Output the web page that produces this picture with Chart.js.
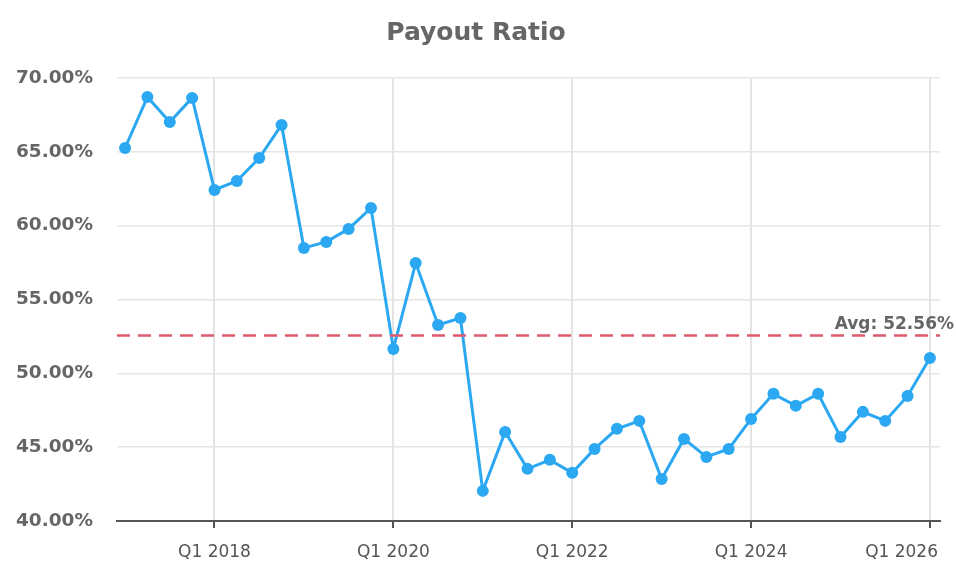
<!DOCTYPE html>
<html>
<head>
<meta charset="utf-8">
<script src="https://cdn.jsdelivr.net/npm/chart.js@4"></script>
<style>
  html, body { margin: 0; padding: 0; background: #fff; }
  #payoutChart { display: block; }
</style>
</head>
<body>
<canvas id="payoutChart" width="956" height="565"></canvas>
<script>
// quarters Q1 2017 .. Q1 2026
const quarters = [
  'Q1 2017', 'Q2 2017', 'Q3 2017', 'Q4 2017',
  'Q1 2018', 'Q2 2018', 'Q3 2018', 'Q4 2018',
  'Q1 2019', 'Q2 2019', 'Q3 2019', 'Q4 2019',
  'Q1 2020', 'Q2 2020', 'Q3 2020', 'Q4 2020',
  'Q1 2021', 'Q2 2021', 'Q3 2021', 'Q4 2021',
  'Q1 2022', 'Q2 2022', 'Q3 2022', 'Q4 2022',
  'Q1 2023', 'Q2 2023', 'Q3 2023', 'Q4 2023',
  'Q1 2024', 'Q2 2024', 'Q3 2024', 'Q4 2024',
  'Q1 2025', 'Q2 2025', 'Q3 2025', 'Q4 2025',
  'Q1 2026'
];
const payoutRatio = [
  65.26, 68.71, 67.02, 68.65,
  62.42, 63.03, 64.58, 66.82,
  58.49, 58.90, 59.78, 61.20,
  51.65, 57.47, 53.28, 53.75,
  42.04, 46.03, 43.53, 44.14,
  43.26, 44.88, 46.24, 46.78,
  42.85, 45.56, 44.34, 44.88,
  46.91, 48.61, 47.80, 48.61,
  45.69, 47.39, 46.78, 48.47,
  51.04
];
const avgPayout = 52.56;
const xTickLabels = ['Q1 2018', 'Q1 2020', 'Q1 2022', 'Q1 2024', 'Q1 2026'];
const yTicks = [40, 45, 50, 55, 60, 65, 70];

const fontFamily = "'DejaVu Sans', 'Open Sans', sans-serif";

// dashed average line + label, and x tick labels kept inside the canvas
const extrasPlugin = {
  id: 'extras',
  afterDatasetsDraw: (chart) => {
    const ctx = chart.ctx;
    const area = chart.chartArea;
    const y = chart.scales.y.getPixelForValue(avgPayout);
    ctx.save();
    ctx.strokeStyle = '#e05a6e';
    ctx.lineWidth = 2.5;
    ctx.setLineDash([13, 8]);
    ctx.beginPath();
    ctx.moveTo(area.left, y);
    ctx.lineTo(area.right, y);
    ctx.stroke();
    ctx.setLineDash([]);
    ctx.fillStyle = '#666';
    ctx.font = 'bold 17px ' + fontFamily;
    ctx.textAlign = 'right';
    ctx.textBaseline = 'bottom';
    ctx.fillText('Avg: ' + avgPayout.toFixed(2) + '%', chart.width - 2, y - 2);
    ctx.restore();
  },
  afterDraw: (chart) => {
    const ctx = chart.ctx;
    const xScale = chart.scales.x;
    ctx.save();
    // title, centred on the canvas
    ctx.fillStyle = '#666';
    ctx.font = 'bold 25px ' + fontFamily;
    ctx.textAlign = 'center';
    ctx.textBaseline = 'alphabetic';
    ctx.fillText('Payout Ratio', 476, 40);
    // x tick labels
    ctx.fillStyle = '#555';
    ctx.font = '17px ' + fontFamily;
    ctx.textBaseline = 'middle';
    xTickLabels.forEach((label) => {
      const idx = quarters.indexOf(label);
      let x = xScale.getPixelForValue(idx);
      const w = ctx.measureText(label).width;
      if (x + w / 2 > chart.width - 18) {
        x = chart.width - 18 - w / 2;
      }
      ctx.fillText(label, x, 553);
    });
    ctx.restore();
  }
};

const ctx = document.getElementById('payoutChart').getContext('2d');

const payoutChart = new Chart(ctx, {
  type: 'line',
  data: {
    datasets: [{
      label: 'Payout Ratio',
      data: payoutRatio.map((v, i) => ({ x: i, y: v })),
      borderColor: '#2ba8f1',
      backgroundColor: '#2ba8f1',
      pointBackgroundColor: '#2ba8f1',
      pointBorderWidth: 0,
      pointRadius: 6,
      borderWidth: 3,
      tension: 0,
      clip: false
    }]
  },
  options: {
    responsive: false,
    animation: false,
    layout: {
      padding: { left: 0, right: 16, top: 78, bottom: 0 }
    },
    plugins: {
      legend: { display: false },
      tooltip: { enabled: false },
      title: { display: false }
    },
    scales: {
      x: {
        type: 'linear',
        min: -0.36,
        max: 36.45,
        afterBuildTicks: (scale) => {
          scale.ticks = xTickLabels.map((l) => ({ value: quarters.indexOf(l) }));
        },
        afterFit: (scale) => { scale.height = 44; },
        ticks: { display: false },
        grid: {
          color: '#e4e4e4',
          lineWidth: 2,
          tickColor: '#555',
          tickLength: 7,
          drawTicks: true
        },
        border: { display: true, color: '#555', width: 2 }
      },
      y: {
        min: 40,
        max: 70,
        afterBuildTicks: (scale) => {
          scale.ticks = yTicks.map((v) => ({ value: v }));
        },
        afterFit: (scale) => { scale.width = 117; },
        ticks: {
          padding: 24,
          color: '#666',
          font: { family: fontFamily, size: 18.5, weight: 'bold' },
          callback: (v) => v.toFixed(2) + '%'
        },
        grid: { color: '#e6e6e6', lineWidth: 1.5, drawTicks: false },
        border: { display: false }
      }
    }
  },
  plugins: [extrasPlugin]
});
</script>
</body>
</html>
